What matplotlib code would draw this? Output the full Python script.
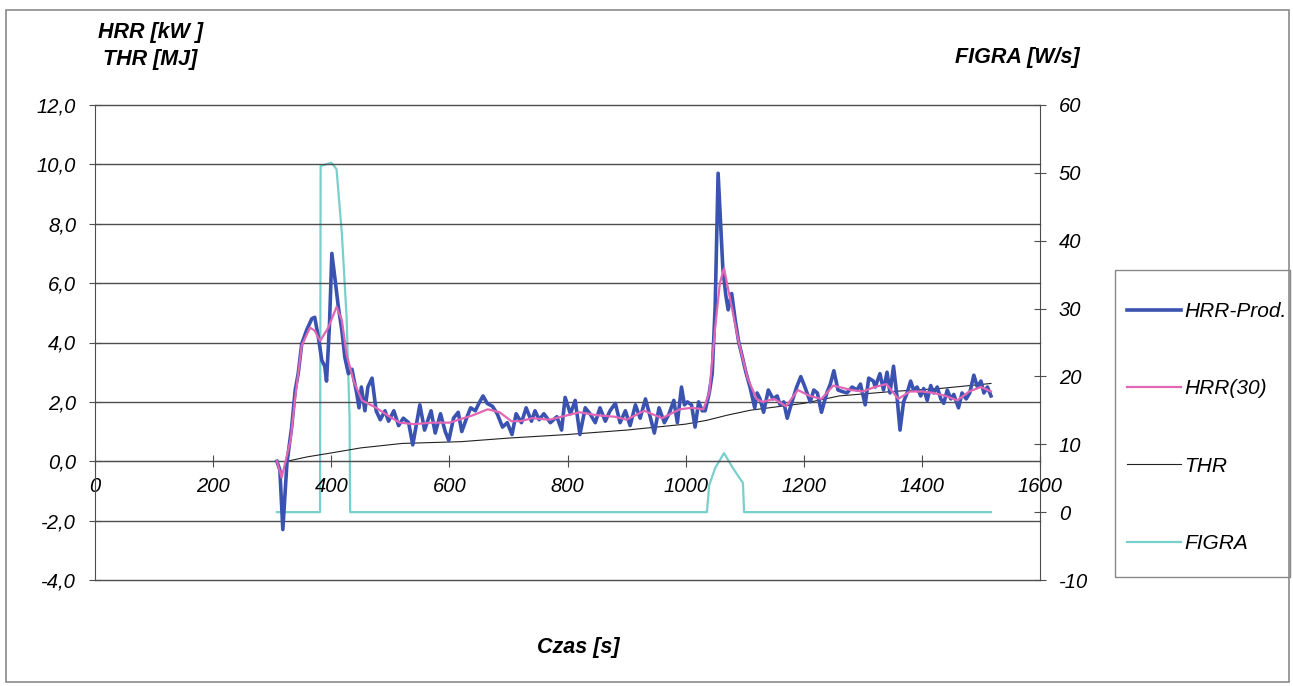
import numpy as np
import matplotlib.pyplot as plt
from matplotlib.patches import Rectangle

plt.rcParams['font.family'] = ['Liberation Sans', 'DejaVu Sans']

# HRR-Prod. [kW] (raw)
t_hrr = [308, 313, 318, 325, 333, 339, 344, 350, 358, 367, 372, 378, 384, 389, 392, 397,
         401, 406, 412, 418, 423, 429, 435, 443, 447, 451, 457, 462, 469, 476, 483, 491,
         497, 506, 514, 522, 531, 538, 550, 558, 564, 569, 576, 585, 593, 599, 607, 615,
         621, 630, 636, 644, 650, 657, 664, 673, 681, 690, 698, 706, 713, 722, 730, 739,
         745, 752, 760, 771, 782, 790, 796, 805, 813, 821, 830, 838, 847, 855, 864, 872,
         881, 889, 898, 906, 915, 923, 932, 940, 947, 955, 964, 972, 980, 986, 993, 998,
         1003, 1010, 1016, 1022, 1028, 1033, 1040, 1045, 1050, 1055, 1063, 1068, 1072, 1078,
         1084, 1090, 1095, 1102, 1109, 1117, 1121, 1126, 1132, 1140, 1148, 1155, 1160, 1166,
         1172, 1180, 1188, 1195, 1202, 1211, 1217, 1223, 1230, 1239, 1245, 1251, 1258, 1265,
         1273, 1282, 1290, 1296, 1304, 1310, 1318, 1321, 1329, 1335, 1341, 1346, 1352, 1358,
         1363, 1369, 1375, 1381, 1386, 1392, 1398, 1403, 1409, 1415, 1420, 1426, 1432, 1437,
         1443, 1449, 1454, 1462, 1468, 1475, 1481, 1488, 1494, 1500, 1505, 1511, 1517]
hrr = [0.0, -0.3, -2.3, -0.05, 1.15, 2.4, 2.95, 3.95, 4.4, 4.8, 4.85, 4.2, 3.4, 3.2, 2.7, 4.6,
       7.0, 6.2, 5.2, 4.4, 3.5, 2.95, 3.1, 2.3, 1.8, 2.5, 1.7, 2.5, 2.8, 1.7, 1.4, 1.7,
       1.35, 1.7, 1.2, 1.45, 1.3, 0.55, 1.9, 1.05, 1.4, 1.7, 0.95, 1.6, 1.0, 0.7, 1.45, 1.65,
       1.0, 1.5, 1.8, 1.7, 1.95, 2.2, 1.95, 1.85, 1.6, 1.15, 1.3, 0.9, 1.6, 1.3, 1.8, 1.35,
       1.7, 1.4, 1.6, 1.3, 1.5, 1.05, 2.15, 1.6, 2.05, 0.9, 1.8, 1.6, 1.3, 1.8, 1.35, 1.7,
       1.95, 1.3, 1.7, 1.2, 1.9, 1.45, 2.1, 1.5, 0.95, 1.8, 1.3, 1.6, 2.05, 1.3, 2.5, 1.9,
       2.0, 1.9, 1.15, 2.0, 1.7, 1.7, 2.3, 2.95, 5.2, 9.7, 6.5, 5.6, 5.1, 5.65,
       4.75, 4.0, 3.6, 3.0, 2.5, 1.8, 2.3, 2.1, 1.65, 2.4, 2.1, 2.2, 1.9, 2.0,
       1.45, 2.0, 2.5, 2.85, 2.5, 2.0, 2.4, 2.3, 1.65, 2.3, 2.6, 3.05, 2.4, 2.35,
       2.3, 2.5, 2.4, 2.6, 1.9, 2.8, 2.7, 2.5, 2.95, 2.4, 3.0, 2.3, 3.2, 2.15,
       1.05, 2.0, 2.3, 2.7, 2.4, 2.5, 2.2, 2.45, 2.05, 2.55, 2.3, 2.5, 2.1, 1.95,
       2.4, 2.1, 2.25, 1.8, 2.3, 2.1, 2.3, 2.9, 2.5, 2.7, 2.3, 2.5, 2.2]

# HRR(30) [kW]
t_hrr30 = [308, 316, 331, 339, 350, 364, 372, 381, 395, 409, 418, 426, 438, 452, 476, 499,
           516, 540, 570, 600, 640, 665, 685, 705, 720, 740, 770, 800, 820, 850, 880, 900,
           930, 960, 990, 1010, 1030, 1040, 1050, 1058, 1065, 1075, 1090, 1105, 1120, 1130,
           1150, 1170, 1190, 1210, 1230, 1250, 1280, 1300, 1320, 1340, 1360, 1380, 1400,
           1420, 1440, 1460, 1480, 1500, 1517]
hrr30 = [0.0, -0.55, 0.7, 2.15, 3.9, 4.5, 4.4, 4.05, 4.5, 5.2, 4.75, 3.6, 2.7, 2.05, 1.8, 1.5,
         1.3, 1.25, 1.3, 1.3, 1.55, 1.75, 1.65, 1.35, 1.35, 1.45, 1.4, 1.55, 1.65, 1.55, 1.5, 1.4,
         1.7, 1.45, 1.75, 1.8, 1.75, 2.3, 4.5, 6.0, 6.5, 5.5, 4.0, 2.8, 2.1, 2.0,
         2.1, 1.85, 2.4, 2.2, 2.1, 2.55, 2.4, 2.35, 2.5, 2.6, 2.1, 2.35, 2.35,
         2.3, 2.2, 2.05, 2.35, 2.5, 2.35]

# THR [MJ]
t_thr = [325, 360, 400, 450, 520, 620, 700, 800, 900, 1000, 1036, 1070, 1110, 1200, 1260,
         1350, 1430, 1517]
thr = [0.0, 0.15, 0.28, 0.45, 0.6, 0.66, 0.78, 0.9, 1.05, 1.25, 1.38, 1.55, 1.72, 1.95, 2.2,
       2.35, 2.45, 2.62]

# FIGRA [W/s]
t_figra = [308, 381, 382, 400, 405, 409, 418, 426, 431, 432, 1036, 1040, 1050, 1065, 1080,
           1097, 1099, 1517]
figra = [0, 0, 51, 51.5, 51, 50.5, 41, 28.7, 14, 0, 0, 4, 6.5, 8.7, 6.5, 4.3, 0, 0]

x_ticks = [0, 200, 400, 600, 800, 1000, 1200, 1400, 1600]
left_ticks = [-4, -2, 0, 2, 4, 6, 8, 10, 12]
right_ticks = [-10, 0, 10, 20, 30, 40, 50, 60]

W, H = 1293, 686
fig = plt.figure(figsize=(W / 100, H / 100), dpi=100)
ax = fig.add_axes([95 / W, 1 - 580 / H, 945 / W, 475 / H])
ax2 = ax.twinx()

grid_col = '#4d4d4d'
fs = 14.5

ax.set_xlim(0, 1600)
ax.set_ylim(-4, 12)
ax2.set_ylim(-10, 60)
for y in left_ticks:
    ax.axhline(y, color=grid_col, lw=1.0, zorder=0, clip_on=False)

l1, = ax.plot(t_hrr, hrr, color='#3a52b0', lw=2.6, zorder=3)
l2, = ax.plot(t_hrr30, hrr30, color='#e266b4', lw=1.6, zorder=4)
l3, = ax.plot(t_thr, thr, color='#222222', lw=0.8, zorder=2)
l4, = ax2.plot(t_figra, figra, color='#78d0cc', lw=1.6, zorder=2)
ax.set_zorder(ax2.get_zorder() + 1)
ax.patch.set_visible(False)

ax.spines['bottom'].set_position(('data', 0))
ax.spines['top'].set_visible(False)
ax.spines['right'].set_visible(False)
ax.spines['left'].set_color(grid_col)
ax.spines['bottom'].set_color(grid_col)
for s in ['top', 'left', 'bottom']:
    ax2.spines[s].set_visible(False)
ax2.spines['right'].set_color(grid_col)

ax.set_xticks(x_ticks)
ax.set_xticklabels([str(v) for v in x_ticks], fontsize=fs, style='italic')
ax.set_yticks(left_ticks)
ax.set_yticklabels([f"{v:.1f}".replace('.', ',') for v in left_ticks], fontsize=fs, style='italic')
ax2.set_yticks(right_ticks)
ax2.set_yticklabels([str(v) for v in right_ticks], fontsize=fs, style='italic')
ax.tick_params(axis='x', direction='inout', length=9, pad=7, color=grid_col)
ax.tick_params(axis='y', direction='inout', length=9, pad=9, color=grid_col)
ax2.tick_params(axis='y', direction='inout', length=9, pad=9, color=grid_col)

fig.text(150 / W, 1 - 46 / H, "HRR [kW ]\nTHR [MJ]", ha='center', va='center',
         fontsize=15.5, fontweight='bold', style='italic', linespacing=1.35)
fig.text(1017 / W, 1 - 58 / H, "FIGRA [W/s]", ha='center', va='center',
         fontsize=15.5, fontweight='bold', style='italic')
fig.text(578 / W, 1 - 648 / H, "Czas [s]", ha='center', va='center',
         fontsize=15.5, fontweight='bold', style='italic')

leg = fig.legend([l1, l2, l3, l4], ["HRR-Prod.", "HRR(30)", "THR", "FIGRA"],
                 loc='upper left', bbox_to_anchor=(1127 / W, 1 - 302 / H),
                 frameon=False, prop={'size': 15, 'style': 'italic'}, handlelength=2.6,
                 handletextpad=0.15, labelspacing=2.8, borderpad=0, borderaxespad=0)

fig.patches.append(Rectangle((1115 / W, 1 - 577 / H), 175 / W, 307 / H, transform=fig.transFigure,
                             fill=False, edgecolor='#888888', lw=1.0))
fig.patches.append(Rectangle((6 / W, 4 / H), 1 - 10 / W, 1 - 14 / H, transform=fig.transFigure,
                             fill=False, edgecolor='#8a8a8a', lw=1.2))

fig.savefig('out.png', dpi=100)
